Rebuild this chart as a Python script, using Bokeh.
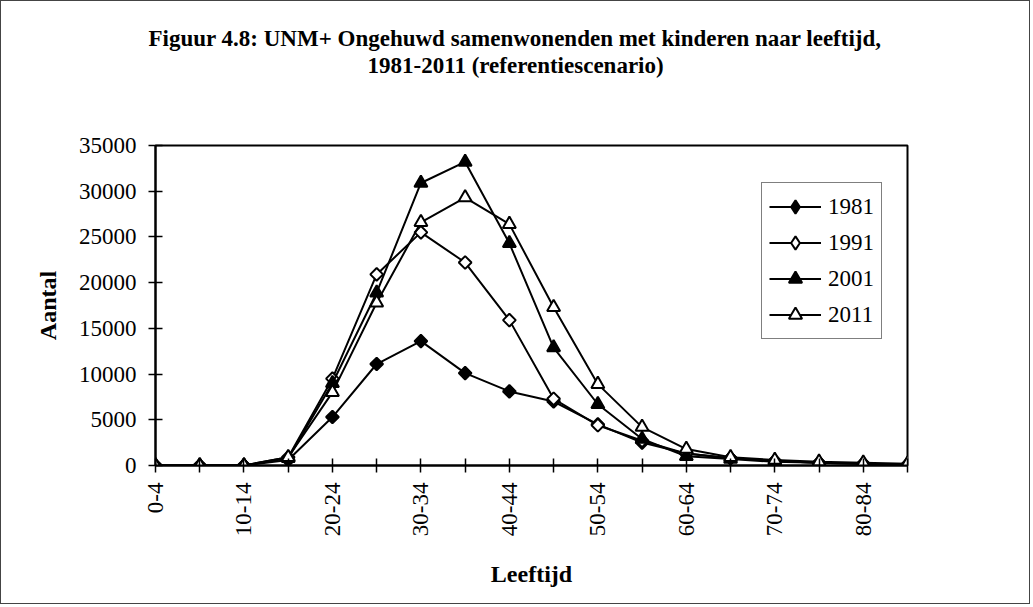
import numpy as np
from bokeh.plotting import figure
from bokeh.models import Range1d, FixedTicker, Title, Legend, LegendItem, NumeralTickFormatter
from bokeh.embed import file_html
from bokeh.resources import INLINE

age_groups = ["0-4", "5-9", "10-14", "15-19", "20-24", "25-29", "30-34", "35-39",
              "40-44", "45-49", "50-54", "55-59", "60-64", "65-69", "70-74",
              "75-79", "80-84", "85+"]
years = ["1981", "1991", "2001", "2011"]
v1981 = [0, 0, 0, 600, 5300, 11100, 13600, 10100, 8100, 7000, 4500, 2500, 1300, 800, 500, 300, 200, 100]
v1991 = [0, 0, 0, 900, 9500, 20900, 25500, 22200, 15900, 7300, 4400, 2700, 1300, 800, 500, 300, 200, 100]
v2001 = [0, 0, 0, 800, 9000, 18900, 30900, 33200, 24300, 12900, 6700, 2900, 1000, 700, 400, 300, 200, 100]
v2011 = [0, 0, 0, 900, 8000, 17800, 26600, 29300, 26400, 17300, 8900, 4200, 1800, 900, 600, 400, 300, 200]
y_ticks = [0, 5000, 10000, 15000, 20000, 25000, 30000, 35000]
title_line1 = "Figuur 4.8: UNM+ Ongehuwd samenwonenden met kinderen naar leeftijd,"
title_line2 = "1981-2011 (referentiescenario)"

FONT = "Liberation Serif"
x = list(range(len(age_groups)))

p = figure(frame_width=752, frame_height=320,
           min_border_left=154, min_border_right=122,
           min_border_top=144, min_border_bottom=138,
           x_range=Range1d(0, len(age_groups) - 1), y_range=Range1d(0, 35000),
           output_backend="svg", toolbar_location=None)
p.styles = {"border": "1px solid #444"}

p.grid.visible = False
p.outline_line_color = "black"
p.outline_line_width = 2
p.background_fill_color = "white"
p.border_fill_color = "white"

for ax in (p.xaxis[0], p.yaxis[0]):
    ax.axis_line_width = 2
    ax.axis_line_color = "black"
    ax.major_tick_in = 7
    ax.major_tick_out = 7
    ax.major_tick_line_width = 1.5
    ax.minor_tick_line_color = None
    ax.major_label_text_font = FONT
    ax.major_label_text_font_size = "23px"
    ax.major_label_text_color = "black"
    ax.axis_label_text_font = FONT
    ax.axis_label_text_font_style = "bold"
    ax.axis_label_text_font_size = "24px"
    ax.axis_label_text_color = "black"

p.xaxis.ticker = FixedTicker(ticks=x)
p.xaxis.major_label_overrides = {i: (age_groups[i] if i % 2 == 0 else "") for i in x}
p.xaxis.major_label_orientation = np.pi / 2
p.xaxis.major_label_standoff = 10
p.xaxis.axis_label = "Leeftijd"
p.xaxis.axis_label_standoff = 22

p.yaxis.ticker = FixedTicker(ticks=y_ticks)
p.yaxis.formatter = NumeralTickFormatter(format="0")
p.yaxis.major_label_standoff = 12
p.yaxis.axis_label = "Aantal"
p.yaxis.axis_label_standoff = 15

series = [v1981, v1991, v2001, v2011]
legend_markers = ["diamond", "diamond", "triangle", "triangle"]
fills = ["black", "white", "black", "white"]

items = []
for yr, vals, lmk, fc in zip(years, series, legend_markers, fills):
    r1 = p.line(x, vals, line_color="black", line_width=2)
    if lmk == "diamond":
        r2 = p.scatter(x, vals, marker="diamond", size=11, fill_color=fc,
                       line_color="black", line_width=2)
        p.scatter(x, vals, marker="square", size=9, angle=np.pi / 4, fill_color=fc,
                  line_color="black", line_width=2)
    else:
        r2 = p.scatter(x, vals, marker="triangle", size=13, fill_color=fc,
                       line_color="black", line_width=2)
    items.append(LegendItem(label=yr, renderers=[r1, r2]))

legend = Legend(items=items, location=(606, 126))
legend.label_text_font = FONT
legend.label_text_font_size = "23px"
legend.label_text_color = "black"
legend.glyph_width = 52
legend.glyph_height = 33
legend.label_height = 33
legend.spacing = 3
legend.padding = 7
legend.margin = 0
legend.label_standoff = 7
legend.border_line_color = "black"
legend.border_line_width = 1
legend.background_fill_color = "white"
legend.background_fill_alpha = 1
p.add_layout(legend, "center")

title_style = dict(align="left", text_font=FONT, text_font_style="bold",
                   text_font_size="23px", text_color="black")
spacer = Title(text=" ", standoff=41, **title_style)
t2 = Title(text=title_line2, offset=212, standoff=0, **title_style)
t1 = Title(text=title_line1, offset=-7, standoff=0, **title_style)
p.add_layout(spacer, "above")
p.add_layout(t2, "above")
p.add_layout(t1, "above")

open("out.html", "w").write(file_html(p, INLINE))
